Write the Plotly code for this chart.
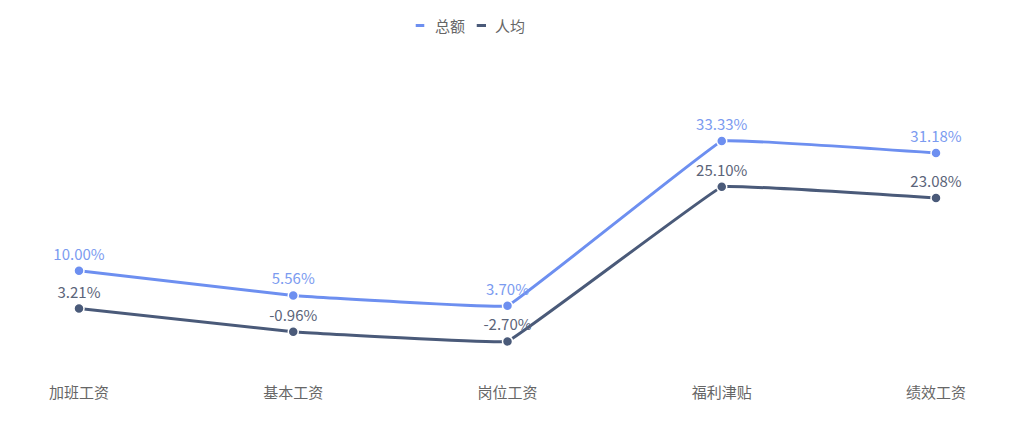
import plotly.graph_objects as go

categories = ["加班工资", "基本工资", "岗位工资", "福利津贴", "绩效工资"]
total_values = [10.00, 5.56, 3.70, 33.33, 31.18]
per_capita_values = [3.21, -0.96, -2.70, 25.10, 23.08]
series_names = ["总额", "人均"]

blue = "#6d8ff0"
dark = "#4a5a79"
font_family = "Noto Sans CJK SC, Microsoft YaHei, sans-serif"

fig = go.Figure()
fig.add_trace(go.Scatter(
    x=categories, y=total_values, name=series_names[0],
    mode="lines+markers+text",
    line=dict(color=blue, width=3, shape="spline", smoothing=0.12),
    marker=dict(size=10, color=blue, line=dict(color="white", width=1.5)),
    text=[f"{v:.2f}%" for v in total_values],
    textposition="top center",
    textfont=dict(color="#7b9bf0", size=15, family=font_family),
    cliponaxis=False, showlegend=False,
))
fig.add_trace(go.Scatter(
    x=categories, y=per_capita_values, name=series_names[1],
    mode="lines+markers+text",
    line=dict(color=dark, width=3, shape="spline", smoothing=0.12),
    marker=dict(size=10, color=dark, line=dict(color="white", width=1.5)),
    text=[f"{v:.2f}%" for v in per_capita_values],
    textposition="top center",
    textfont=dict(color="#5b6479", size=15, family=font_family),
    cliponaxis=False, showlegend=False,
))

# custom legend (short dash + label), like the reference
legend_items = [
    (series_names[0], blue, 0.3929, 0.4029, 0.4131),
    (series_names[1], dark, 0.4641, 0.4749, 0.4831),
]
legend_y = 1.2824
for name, color, x0, x1, xt in legend_items:
    fig.add_shape(type="line", xref="paper", yref="paper", x0=x0, x1=x1,
                  y0=legend_y, y1=legend_y, line=dict(color=color, width=3))
    fig.add_annotation(xref="paper", yref="paper", x=xt, y=legend_y,
                       xanchor="left", yanchor="middle", showarrow=False,
                       text=name, font=dict(size=15, color="#666666", family=font_family))

fig.update_layout(
    width=1024, height=422,
    margin=dict(l=71, r=96, t=96, b=48),
    paper_bgcolor="white", plot_bgcolor="white",
    font=dict(family=font_family, color="#666666", size=15),
    showlegend=False,
    xaxis=dict(type="category", range=[0, 4], showgrid=False, zeroline=False,
               showline=False, ticks="", tickfont=dict(size=15, color="#666666")),
    yaxis=dict(range=[-10, 40], showgrid=False, zeroline=False, showline=False,
               showticklabels=False, ticks=""),
)

fig.write_html("out.html")
